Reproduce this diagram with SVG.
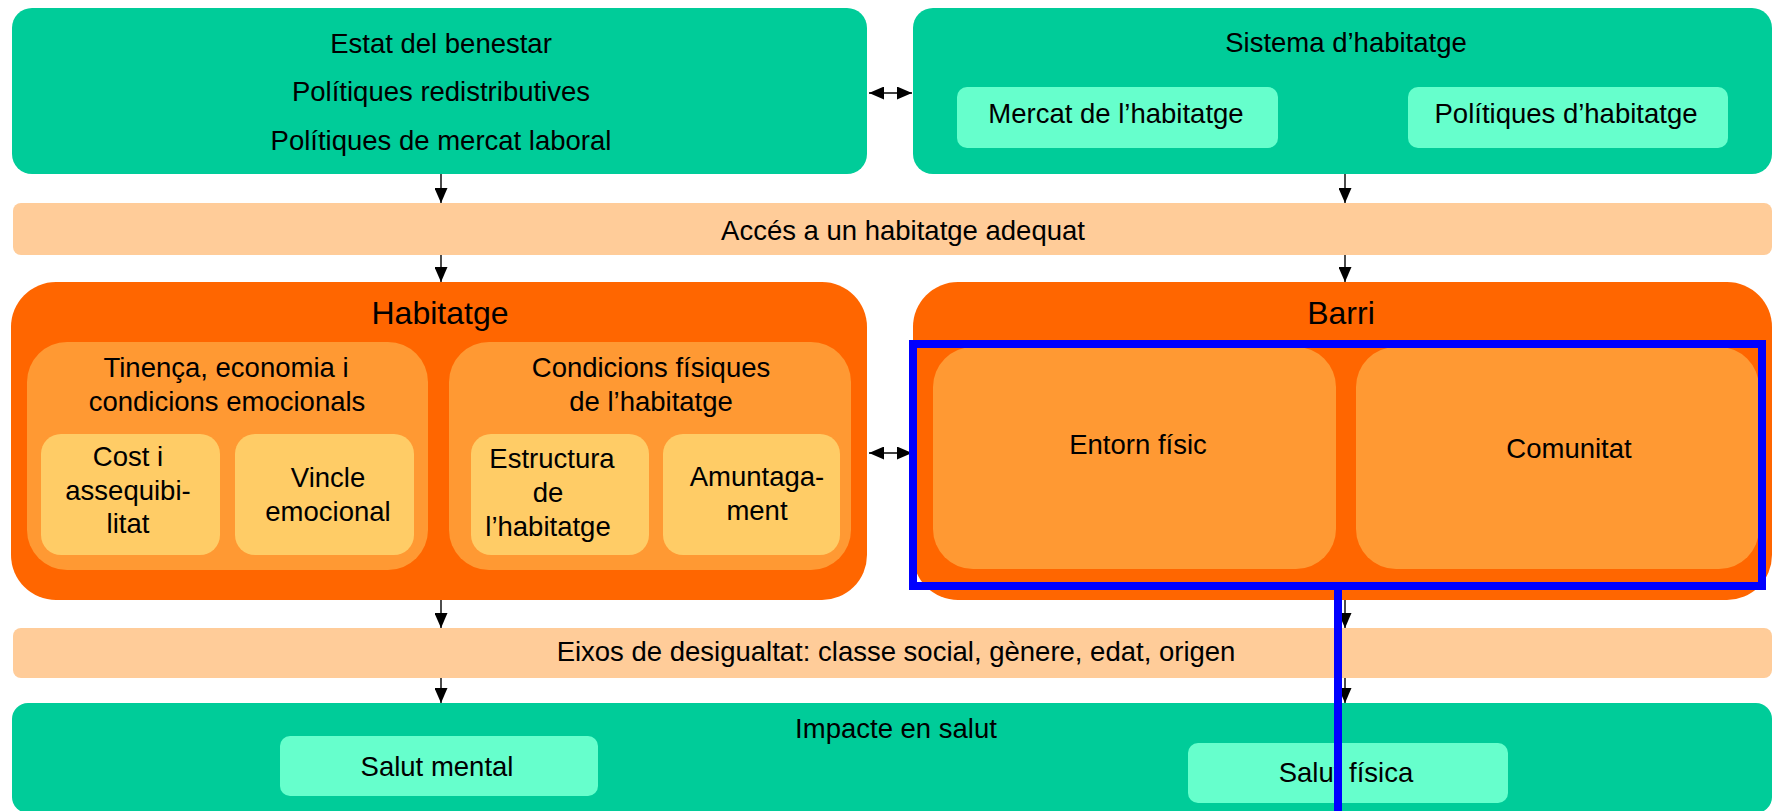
<svg xmlns="http://www.w3.org/2000/svg" width="1776" height="811" viewBox="0 0 1776 811">
<defs>
<marker id="ah" markerUnits="userSpaceOnUse" markerWidth="15" markerHeight="13" refX="15" refY="6.5" orient="auto-start-reverse">
<path d="M0,0 L15,6.5 L0,13 z" fill="#000"/>
</marker>
<style>
text{font-family:"Liberation Sans",Arial,sans-serif;font-size:27.5px;fill:#000;text-anchor:middle}
.t32{font-size:32px}
.green{fill:#00CC99}
.mint{fill:#66FFCC}
.peach{fill:#FFCC99}
.orange{fill:#FF6600}
.mid{fill:#FF9933}
.light{fill:#FFCC66}
.conn{stroke:#000;stroke-width:1.4;fill:none;marker-end:url(#ah)}
.dbl{marker-start:url(#ah)}
.blue{stroke:#0000FF;stroke-width:8;fill:none}
</style>
</defs>
<rect width="1776" height="811" fill="#fff"/>

<g id="estat">
<rect class="green" x="12" y="8" width="855" height="166" rx="20"/>
<text x="441" y="53">Estat del benestar</text>
<text x="441" y="101">Polítiques redistributives</text>
<text x="441" y="150">Polítiques de mercat laboral</text>
</g>

<g id="sistema">
<rect class="green" x="913" y="8" width="859" height="166" rx="20"/>
<text x="1346" y="52">Sistema d’habitatge</text>
<g id="mercat">
<rect class="mint" x="957" y="87" width="321" height="61" rx="10"/>
<text x="1116" y="123">Mercat de l’habitatge</text>
</g>
<g id="politiques-habitatge">
<rect class="mint" x="1408" y="87" width="320" height="61" rx="10"/>
<text x="1566" y="123">Polítiques d’habitatge</text>
</g>
</g>

<g id="acces">
<rect class="peach" x="13" y="203" width="1759" height="52" rx="8"/>
<text x="903" y="240">Accés a un habitatge adequat</text>
</g>

<g id="habitatge">
<rect class="orange" x="11" y="282" width="856" height="318" rx="45"/>
<text class="t32" x="440" y="324">Habitatge</text>
<g id="tinenca">
<rect class="mid" x="27" y="342" width="401" height="228" rx="40"/>
<text x="226" y="377">Tinença, economia i</text>
<text x="227" y="411">condicions emocionals</text>
<g id="cost">
<rect class="light" x="41" y="434" width="179" height="121" rx="20"/>
<text x="128" y="466">Cost i</text>
<text x="128" y="500">assequibi-</text>
<text x="128" y="533">litat</text>
</g>
<g id="vincle">
<rect class="light" x="235" y="434" width="179" height="121" rx="20"/>
<text x="328" y="487">Vincle</text>
<text x="328" y="521">emocional</text>
</g>
</g>
<g id="condicions">
<rect class="mid" x="449" y="342" width="402" height="228" rx="40"/>
<text x="651" y="377">Condicions físiques</text>
<text x="651" y="411">de l’habitatge</text>
<g id="estructura">
<rect class="light" x="471" y="434" width="178" height="121" rx="20"/>
<text x="552" y="468">Estructura</text>
<text x="548" y="502">de</text>
<text x="548" y="536">l’habitatge</text>
</g>
<g id="amuntegament">
<rect class="light" x="663" y="434" width="177" height="121" rx="20"/>
<text x="757" y="486">Amuntaga-</text>
<text x="757" y="520">ment</text>
</g>
</g>
</g>

<g id="barri">
<rect class="orange" x="913" y="282" width="859" height="318" rx="45"/>
<text class="t32" x="1341" y="324">Barri</text>
<g id="entorn">
<rect class="mid" x="933" y="347" width="403" height="222" rx="40"/>
<text x="1138" y="454">Entorn físic</text>
</g>
<g id="comunitat">
<rect class="mid" x="1356" y="347" width="403" height="222" rx="40"/>
<text x="1569" y="458">Comunitat</text>
</g>
</g>

<g id="eixos">
<rect class="peach" x="13" y="628" width="1759" height="50" rx="8"/>
<text x="896" y="661">Eixos de desigualtat: classe social, gènere, edat, origen</text>
</g>

<g id="impacte">
<rect class="green" x="12" y="703" width="1760" height="110" rx="16"/>
<text x="896" y="738">Impacte en salut</text>
<g id="salut-mental">
<rect class="mint" x="280" y="736" width="318" height="60" rx="10"/>
<text x="437" y="776">Salut mental</text>
</g>
<g id="salut-fisica">
<rect class="mint" x="1188" y="743" width="320" height="60" rx="10"/>
<text x="1346" y="782">Salut física</text>
</g>
</g>

<g id="connectors">
<line class="conn" x1="441" y1="174" x2="441" y2="203"/>
<line class="conn" x1="1345" y1="174" x2="1345" y2="203"/>
<line class="conn" x1="441" y1="255" x2="441" y2="282"/>
<line class="conn" x1="1345" y1="255" x2="1345" y2="282"/>
<line class="conn" x1="441" y1="600" x2="441" y2="628"/>
<line class="conn" x1="1345" y1="600" x2="1345" y2="628"/>
<line class="conn" x1="441" y1="678" x2="441" y2="703"/>
<line class="conn" x1="1345" y1="678" x2="1345" y2="703"/>
<line class="conn dbl" x1="869" y1="93" x2="912" y2="93"/>
<line class="conn dbl" x1="869" y1="453" x2="912" y2="453"/>
</g>

<g id="highlight">
<rect class="blue" x="913" y="344" width="849" height="242"/>
<line class="blue" x1="1338" y1="590" x2="1338" y2="811"/>
</g>
</svg>
